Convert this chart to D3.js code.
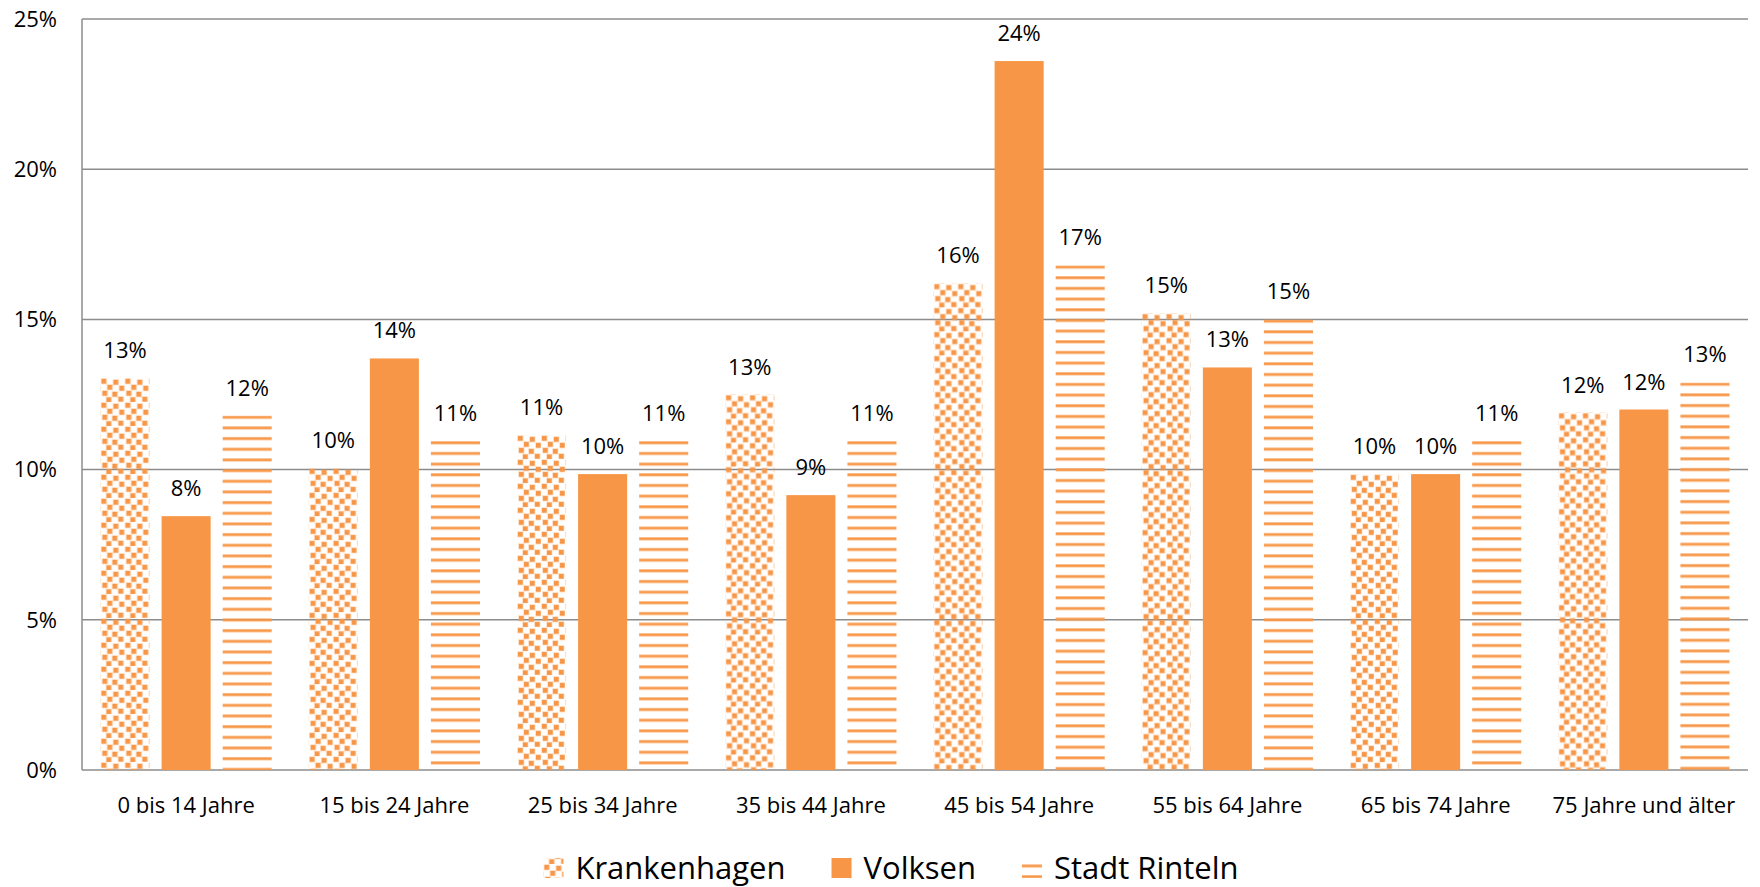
<!DOCTYPE html>
<html>
<head>
<meta charset="utf-8">
<script src="https://cdn.jsdelivr.net/npm/d3@7"></script>
<style>
  body { margin: 0; background: #fff; }
  text { font-family: "Open Sans", "Noto Sans", sans-serif; fill: #000; }
</style>
</head>
<body>
<svg id="chart" width="1760" height="887"></svg>
<script>
// Altersgruppen
var categories = ["0 bis 14 Jahre", "15 bis 24 Jahre", "25 bis 34 Jahre", "35 bis 44 Jahre",
                  "45 bis 54 Jahre", "55 bis 64 Jahre", "65 bis 74 Jahre", "75 Jahre und älter"];
var seriesNames = ["Krankenhagen", "Volksen", "Stadt Rinteln"];
var krankenhagen = [13.05, 10.05, 11.15, 12.5, 16.2, 15.2, 9.85, 11.9];
var volksen      = [8.45, 13.7, 9.85, 9.15, 23.6, 13.4, 9.85, 12.0];
var stadtRinteln = [11.8, 10.95, 10.95, 10.95, 16.8, 15.0, 10.95, 12.9];
var yTicks = [0, 5, 10, 15, 20, 25];

var orange = "#F79646";
var svg = d3.select("#chart");
var plotLeft = 82, plotRight = 1748, plotTop = 19, plotBottom = 770;

var defs = svg.append("defs");

// Konfetti-Muster
var conf = defs.append("pattern")
  .attr("id", "confetti")
  .attr("patternUnits", "userSpaceOnUse")
  .attr("width", 24).attr("height", 24);
var dots = [[1,1],[13,2],[7,7],[19,8],[2,13],[12,14],[18,19],[6,19.5]];
conf.selectAll("rect.blur").data(dots).enter().append("rect")
  .attr("class", "blur")
  .attr("x", function(d) { return d[0] - 0.7; })
  .attr("y", function(d) { return d[1] - 0.7; })
  .attr("width", 6).attr("height", 6)
  .attr("fill", orange).attr("opacity", 0.4);
conf.selectAll("rect.dot").data(dots).enter().append("rect")
  .attr("class", "dot")
  .attr("x", function(d) { return d[0]; })
  .attr("y", function(d) { return d[1]; })
  .attr("width", 4.6).attr("height", 4.6)
  .attr("fill", orange);

// Streifen-Muster
var stripes = defs.append("pattern")
  .attr("id", "stripes")
  .attr("patternUnits", "userSpaceOnUse")
  .attr("width", 20).attr("height", 10.67);
stripes.append("rect").attr("x", 0).attr("y", 0).attr("width", 20).attr("height", 1)
  .attr("fill", orange).attr("opacity", 0.45);
stripes.append("rect").attr("x", 0).attr("y", 0.6).attr("width", 20).attr("height", 2.2)
  .attr("fill", orange);
stripes.append("rect").attr("x", 0).attr("y", 2.6).attr("width", 20).attr("height", 1)
  .attr("fill", orange).attr("opacity", 0.45);

var fills = ["url(#confetti)", orange, "url(#stripes)"];

var y = d3.scaleLinear().domain([0, 25]).range([plotBottom, plotTop]);
var x0 = d3.scaleBand().domain(categories).range([plotLeft, plotRight])
  .paddingInner(0.178).paddingOuter(0.089);
var x1 = d3.scaleBand().domain(seriesNames).range([0, x0.bandwidth()])
  .paddingInner(0.197).paddingOuter(0);

// Gitterlinien
svg.append("g").selectAll("line").data(yTicks).enter().append("line")
  .attr("x1", plotLeft).attr("x2", plotRight)
  .attr("y1", function(d) { return y(d); })
  .attr("y2", function(d) { return y(d); })
  .attr("stroke", "#8c8c8c").attr("stroke-width", 1.5);
svg.append("line")
  .attr("x1", plotLeft).attr("x2", plotLeft).attr("y1", plotTop).attr("y2", plotBottom)
  .attr("stroke", "#8c8c8c").attr("stroke-width", 1.5);

// Y-Achse Beschriftung
svg.append("g").selectAll("text").data(yTicks).enter().append("text")
  .attr("x", 57)
  .attr("y", function(d) { return y(d); })
  .attr("dy", "0.35em")
  .attr("text-anchor", "end")
  .style("font-size", "22px")
  .text(function(d) { return d + "%"; });

// Balken
var rows = categories.map(function(c, i) {
  return { cat: c, vals: [krankenhagen[i], volksen[i], stadtRinteln[i]] };
});

var groups = svg.append("g").selectAll("g").data(rows).enter().append("g")
  .attr("transform", function(d) { return "translate(" + x0(d.cat) + ",0)"; });

// Muster beginnt jeweils an der Oberkante des Balkens
groups.selectAll("rect").data(function(d) {
    return d.vals.map(function(v, j) { return { name: seriesNames[j], v: v, j: j }; });
  }).enter().append("rect")
  .attr("transform", function(d) { return "translate(" + x1(d.name) + "," + y(d.v) + ")"; })
  .attr("x", 0).attr("y", 0)
  .attr("width", x1.bandwidth())
  .attr("height", function(d) { return plotBottom - y(d.v); })
  .attr("fill", function(d) { return fills[d.j]; });

groups.selectAll("text").data(function(d) {
    return d.vals.map(function(v, j) { return { name: seriesNames[j], v: v }; });
  }).enter().append("text")
  .attr("x", function(d) { return x1(d.name) + x1.bandwidth() / 2; })
  .attr("y", function(d) { return y(d.v) - 20; })
  .attr("text-anchor", "middle")
  .style("font-size", "22px")
  .text(function(d) { return Math.round(d.v) + "%"; });

// X-Achse Beschriftung
svg.append("g").selectAll("text").data(categories).enter().append("text")
  .attr("x", function(d) { return x0(d) + x0.bandwidth() / 2; })
  .attr("y", 805)
  .attr("dy", "0.35em")
  .attr("text-anchor", "middle")
  .style("font-size", "22px")
  .text(function(d) { return d; });

// Legende
var legend = svg.append("g");
var items = legend.selectAll("g").data(seriesNames).enter().append("g");
items.append("rect")
  .attr("width", 20).attr("height", 20)
  .attr("y", 858)
  .attr("fill", function(d, i) { return fills[i]; });
items.append("text")
  .attr("x", 32).attr("y", 868).attr("dy", "0.35em")
  .style("font-size", "31px")
  .text(function(d) { return d; });
var widths = [];
items.each(function() { widths.push(this.getBBox().width); });
var gap = 46;
var total = d3.sum(widths) + gap * (widths.length - 1);
var lx = 891 - total / 2;
items.attr("transform", function(d, i) {
  var t = "translate(" + lx + ",0)";
  lx += widths[i] + gap;
  return t;
});
</script>
</body>
</html>
